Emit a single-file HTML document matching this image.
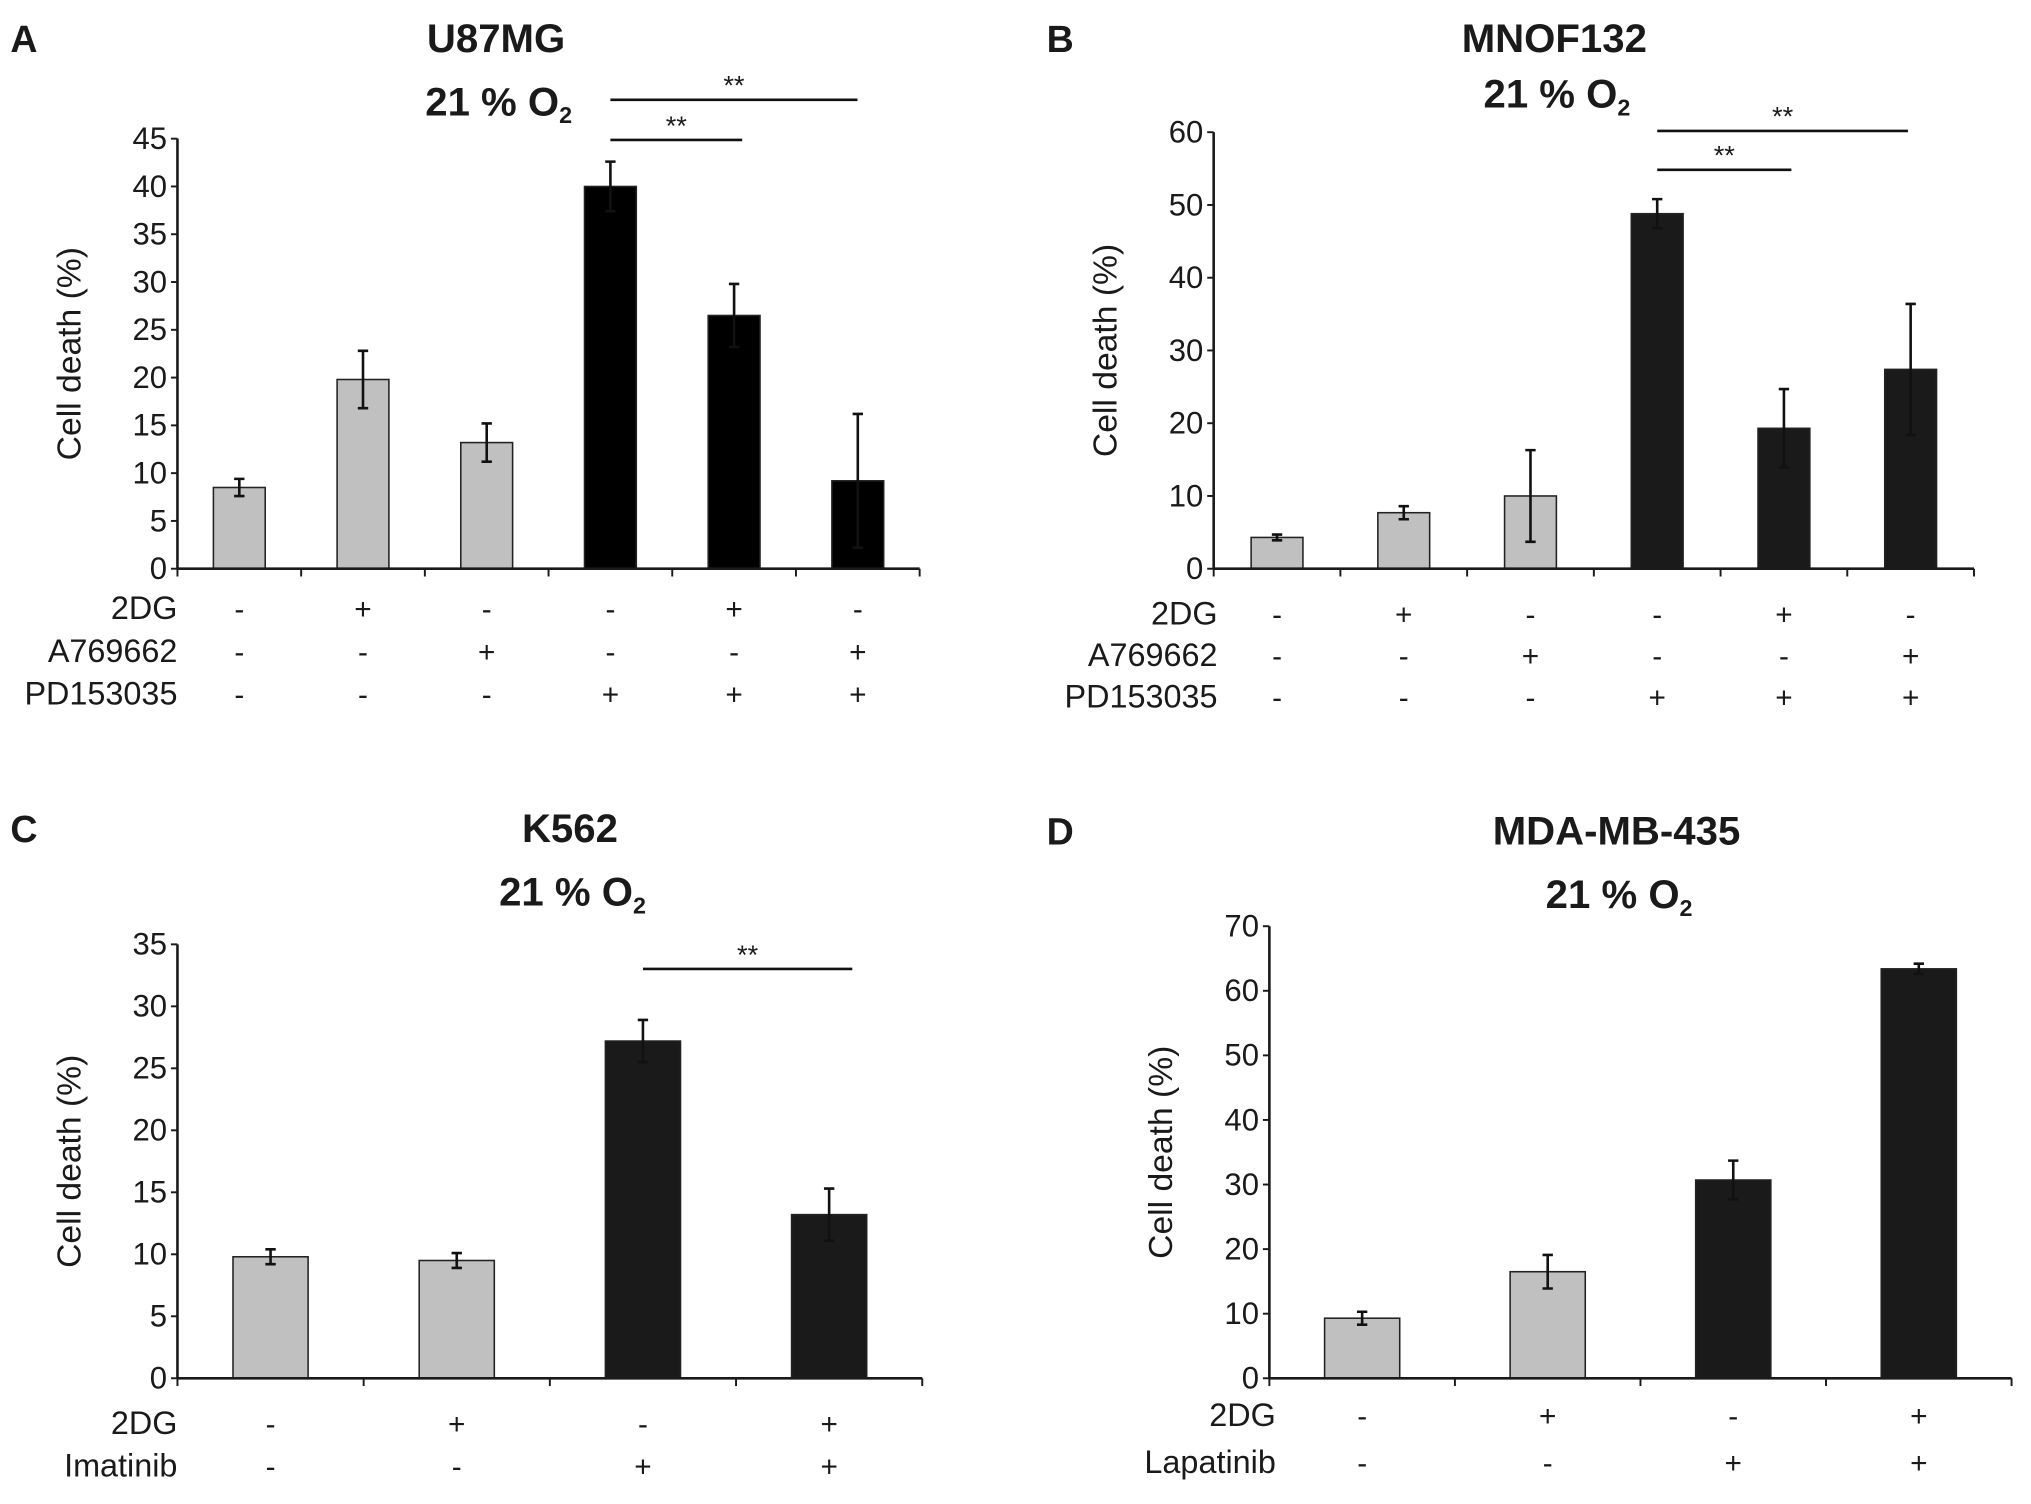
<!DOCTYPE html>
<html><head><meta charset="utf-8"><style>
html,body{margin:0;padding:0;background:#fff}
svg{display:block}
text{font-family:"Liberation Sans Narrow","Liberation Sans",Arial,sans-serif;fill:#1a1a1a}
.t{font-weight:bold;font-family:"Liberation Sans Narrow","Liberation Sans",sans-serif}
</style></head><body>
<svg id="fig" width="2031" height="1504" viewBox="0 0 1568 1161" xmlns="http://www.w3.org/2000/svg"></svg>
<script>
// Panel A data
const aValues=[8.5,19.8,13.2,40,26.5,9.2];
const aErrors=[0.9,3,2,2.6,3.3,7];
const aTicks=[0,5,10,15,20,25,30,35,40,45];
const aRows=["2DG","A769662","PD153035"];
const aSigns=[["-","+","-","-","+","-"],["-","-","+","-","-","+"],["-","-","-","+","+","+"]];
// Panel B data
const bValues=[4.3,7.7,10,48.8,19.3,27.4];
const bErrors=[0.4,0.9,6.3,2,5.4,9];
const bTicks=[0,10,20,30,40,50,60];
const bRows=["2DG","A769662","PD153035"];
const bSigns=[["-","+","-","-","+","-"],["-","-","+","-","-","+"],["-","-","-","+","+","+"]];
// Panel C data
const cValues=[9.8,9.5,27.2,13.2];
const cErrors=[0.6,0.6,1.7,2.1];
const cTicks=[0,5,10,15,20,25,30,35];
const cRows=["2DG","Imatinib"];
const cSigns=[["-","+","-","+"],["-","-","+","+"]];
// Panel D data
const dValues=[9.3,16.5,30.7,63.4];
const dErrors=[1,2.6,3,0.8];
const dTicks=[0,10,20,30,40,50,60,70];
const dRows=["2DG","Lapatinib"];
const dSigns=[["-","+","-","+"],["-","-","+","+"]];

const NS="http://www.w3.org/2000/svg";
const svg=document.getElementById('fig');
function el(tag,attrs,parent,txt){const e=document.createElementNS(NS,tag);for(const k in attrs)e.setAttribute(k,attrs[k]);if(txt!==undefined)e.textContent=txt;(parent||svg).appendChild(e);return e;}

function panel(o){
  const g=el('g',{});
  
  
  const n=o.values.length;
  const ymax=o.ticks[o.ticks.length-1];
  const Y=v=>o.y0-(v/ymax)*(o.y0-o.ytop);
  const step=(o.x1-o.x0)/n;
  const X=i=>o.x0+step*(i+0.5);
  let t=el('text',{x:o.lx,y:o.ty,'font-size':29,class:'t'},g,o.letter);
  
  t=el('text',{x:o.tx,y:o.ty,'font-size':31,class:'t','text-anchor':'middle'},g,o.title);
  
  t=el('text',{x:o.tx+2,y:o.sy,'font-size':31,class:'t','text-anchor':'middle'},g);
  
  t.innerHTML='21 % O<tspan font-size="18" dy="6">2</tspan>';
  o.ticks.forEach(v=>{
    const l=el('line',{x1:o.x0-5,x2:o.x0,y1:Y(v),y2:Y(v),stroke:'#1a1a1a','stroke-width':1.5},g);
    
    const tt=el('text',{x:o.x0-8,y:Y(v)+8,'font-size':24,'text-anchor':'end'},g,String(v));
    
  });
  const yl=el('text',{x:0,y:0,'font-size':26,'text-anchor':'middle',transform:`translate(${o.x0-75},${(o.y0+o.ytop)/2}) rotate(-90)`},g,'Cell death (%)');
  
  o.values.forEach((v,i)=>{
    const dark=i>=n/2;
    const r=el('rect',{x:X(i)-o.bw/2,y:Y(v),width:o.bw,height:o.y0-Y(v),fill:dark?o.dark:'#c0c0c0',stroke:'#222','stroke-width':1.2},g);
    
    const e=o.errors[i];
    const eb=el('path',{d:`M${X(i)},${Y(v+e)}V${Y(v-e)}M${X(i)-4},${Y(v+e)}H${X(i)+4}M${X(i)-4},${Y(v-e)}H${X(i)+4}`,stroke:'#111','stroke-width':2,fill:'none'},g);
    
  });
  let ax=el('line',{x1:o.x0,x2:o.x0,y1:o.ytop,y2:o.y0,stroke:'#1a1a1a','stroke-width':2},g);
  
  ax=el('line',{x1:o.x0,x2:o.x1,y1:o.y0,y2:o.y0,stroke:'#1a1a1a','stroke-width':2},g);
  
  for(let i=0;i<=n;i++){
    const l=el('line',{x1:o.x0+step*i,x2:o.x0+step*i,y1:o.y0,y2:o.y0+6,stroke:'#1a1a1a','stroke-width':1.5},g);
    
  }
  o.rows.forEach((name,r)=>{
    const yy=o.rowY[r];
    const lt=el('text',{x:o.rx,y:yy,'font-size':25,'text-anchor':'end'},g,name);
    
    o.signs[r].forEach((s,i)=>{
      const st=el('text',{x:X(i),y:yy,'font-size':23,'text-anchor':'middle'},g,s);
      
    });
  });
  (o.sig||[]).forEach(s=>{
    const l=el('line',{x1:X(s[0]),x2:s[3]||X(s[1]),y1:s[2],y2:s[2],stroke:'#111','stroke-width':2},g);
    
    const tt=el('text',{x:(X(s[0])+(s[3]||X(s[1])))/2,y:s[2]-4,'font-size':21,'text-anchor':'middle'},g,'**');
    
  });
}
panel({id:'a',letter:'A',lx:8,title:'U87MG',tx:383,ty:40,sy:89,x0:137,x1:710,y0:439,ytop:107,bw:40,dark:'#000',
  values:aValues,errors:aErrors,ticks:aTicks,rows:aRows,signs:aSigns,rx:137,rowY:[478,511,544],
  sig:[[3,4,108,573],[3,5,77,662]]});
panel({id:'b',letter:'B',lx:808,title:'MNOF132',tx:1200,ty:40,sy:83,x0:937,x1:1524,y0:439,ytop:102,bw:40,dark:'#1a1a1a',
  values:bValues,errors:bErrors,ticks:bTicks,rows:bRows,signs:bSigns,rx:940,rowY:[482,514,546],
  sig:[[3,4,131,1383],[3,5,101,1473]]});
panel({id:'c',letter:'C',lx:8,title:'K562',tx:440,ty:650,sy:699,x0:137,x1:712,y0:1064,ytop:729,bw:58,dark:'#1a1a1a',
  values:cValues,errors:cErrors,ticks:cTicks,rows:cRows,signs:cSigns,rx:137,rowY:[1107,1140],
  sig:[[2,3,748,658]]});
panel({id:'d',letter:'D',lx:808,title:'MDA-MB-435',tx:1248,ty:652,sy:701,x0:980,x1:1553,y0:1064,ytop:715,bw:58,dark:'#1a1a1a',
  values:dValues,errors:dErrors,ticks:dTicks,rows:dRows,signs:dSigns,rx:985,rowY:[1101,1137]});
</script>
</body></html>
